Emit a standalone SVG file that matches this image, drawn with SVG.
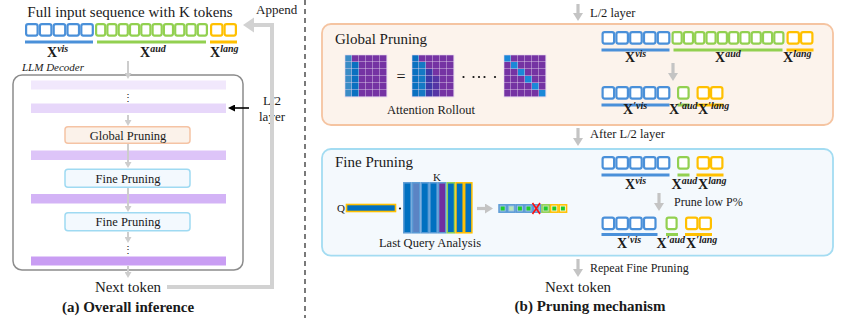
<svg xmlns="http://www.w3.org/2000/svg" xmlns:xlink="http://www.w3.org/1999/xlink" width="847" height="318" viewBox="0 0 847 318">
<style>
text{font-family:"Liberation Serif","Times New Roman",serif;fill:#1a1a1a}
.sb{fill:#fff;stroke:#4a90d9;stroke-width:2.2}
.sg{fill:#fff;stroke:#92d050;stroke-width:2.2}
.sy{fill:#fff;stroke:#ffc000;stroke-width:2.2}
.ub{fill:#4a90d9}.ug{fill:#92d050}.uy{fill:#ffc000}
.X{font-size:14px;font-weight:bold}
.sup{font-size:10px;font-style:italic;font-weight:bold}
.ga{stroke:#c4c4c4;stroke-width:3.2;fill:none;marker-end:url(#gh)}
.gs{stroke:#cdcdcd;stroke-width:2;fill:none;marker-end:url(#gs)}
.lbox{stroke-width:1.5}
.gp{fill:#fbf2ea;stroke:#f5c3a4}
.fp{fill:#f3f9fe;stroke:#9fdaf2}
.mp{fill:#7533a3}
.cell{fill:url(#g7);stroke:#e2d3ec;stroke-width:0.6}
</style>
<defs>
<marker id="gh" markerUnits="userSpaceOnUse" viewBox="0 0 8 10" markerWidth="8" markerHeight="10" refX="1" refY="5" orient="auto"><path d="M0,0L8,5L0,10z" fill="#c4c4c4"/></marker>
<marker id="gs" markerUnits="userSpaceOnUse" viewBox="0 0 6 7" markerWidth="6" markerHeight="7" refX="1" refY="3.5" orient="auto"><path d="M0,0L6,3.5L0,7z" fill="#cdcdcd"/></marker>
<marker id="bh" markerUnits="userSpaceOnUse" viewBox="0 0 7 7" markerWidth="7" markerHeight="7" refX="1" refY="3.5" orient="auto"><path d="M0,0L7,3.5L0,7z" fill="#000"/></marker>
<pattern id="g7" width="7" height="7" patternUnits="userSpaceOnUse"><path d="M7,0V7H0" fill="none" stroke="#e2d3ec" stroke-width="0.9"/></pattern>
<g id="seq">
<rect class="sb" x="1.1" y="1.1" width="11.5" height="11.5" rx="2"/>
<rect class="sb" x="14.9" y="1.1" width="11.5" height="11.5" rx="2"/>
<rect class="sb" x="28.7" y="1.1" width="11.5" height="11.5" rx="2"/>
<rect class="sb" x="42.5" y="1.1" width="11.5" height="11.5" rx="2"/>
<rect class="sb" x="56.3" y="1.1" width="11.5" height="11.5" rx="2"/>
<rect class="sg" x="71.1" y="1.1" width="9.1" height="11.5" rx="2"/>
<rect class="sg" x="82.4" y="1.1" width="9.1" height="11.5" rx="2"/>
<rect class="sg" x="93.7" y="1.1" width="9.1" height="11.5" rx="2"/>
<rect class="sg" x="105" y="1.1" width="9.1" height="11.5" rx="2"/>
<rect class="sg" x="116.3" y="1.1" width="9.1" height="11.5" rx="2"/>
<rect class="sg" x="127.6" y="1.1" width="9.1" height="11.5" rx="2"/>
<rect class="sg" x="138.9" y="1.1" width="9.1" height="11.5" rx="2"/>
<rect class="sg" x="150.2" y="1.1" width="9.1" height="11.5" rx="2"/>
<rect class="sg" x="161.5" y="1.1" width="9.1" height="11.5" rx="2"/>
<rect class="sg" x="172.8" y="1.1" width="9.1" height="11.5" rx="2"/>
<rect class="sy" x="186.1" y="1.1" width="11.3" height="11.5" rx="2"/>
<rect class="sy" x="199.6" y="1.1" width="11.3" height="11.5" rx="2"/>
<rect class="ub" x="0" y="17.5" width="68" height="3"/>
<rect class="ug" x="72" y="17.5" width="109" height="3"/>
<rect class="uy" x="185" y="17.5" width="27" height="3"/>
</g>
<g id="pr5">
<rect class="sb" x="1.1" y="1.1" width="11.5" height="11.5" rx="2"/>
<rect class="sb" x="14.9" y="1.1" width="11.5" height="11.5" rx="2"/>
<rect class="sb" x="28.7" y="1.1" width="11.5" height="11.5" rx="2"/>
<rect class="sb" x="42.5" y="1.1" width="11.5" height="11.5" rx="2"/>
<rect class="sb" x="56.3" y="1.1" width="11.5" height="11.5" rx="2"/>
<rect class="sg" x="76.6" y="1.1" width="10.5" height="11.5" rx="2"/>
<rect class="sy" x="96.1" y="1.1" width="11.3" height="11.5" rx="2"/>
<rect class="sy" x="109.6" y="1.1" width="11.3" height="11.5" rx="2"/>
<rect class="ub" x="0" y="17.5" width="68" height="3"/>
<rect class="ug" x="76" y="17.5" width="12" height="3"/>
<rect class="uy" x="95" y="17.5" width="27" height="3"/>
</g>
</defs>

<!-- divider -->
<line x1="305" y1="0" x2="305" y2="318" stroke="#222" stroke-width="1.2" stroke-dasharray="5,4"/>

<!-- ===== LEFT PANEL ===== -->
<g id="input-seq">
<text x="130" y="17" font-size="15" text-anchor="middle">Full input sequence with K tokens</text>
<use xlink:href="#seq" href="#seq" x="25" y="23"/>
<text x="47" y="57" class="X">X<tspan class="sup" dy="-5">vis</tspan></text>
<text x="140" y="57" class="X">X<tspan class="sup" dy="-5">aud</tspan></text>
<text x="210" y="57" class="X">X<tspan class="sup" dy="-5">lang</tspan></text>
</g>

<g id="decoder">
<text x="22" y="71" font-size="11" font-style="italic">LLM Decoder</text>
<rect x="13" y="75" width="230" height="195" rx="9" fill="none" stroke="#8c8c8c" stroke-width="1.5"/>
<rect x="31" y="80.5" width="195" height="9" fill="#f1e8fc"/>
<text x="128" y="101" font-size="10" text-anchor="middle">⋮</text>
<rect x="31" y="103.5" width="195" height="9.5" fill="#e7d7fa"/>
<rect x="31" y="150.5" width="195" height="9.5" fill="#ddc4f8"/>
<rect x="31" y="194" width="195" height="9.5" fill="#d3b3f6"/>
<text x="128" y="253" font-size="10" text-anchor="middle">⋮</text>
<rect x="31" y="256.5" width="195" height="9" fill="#c99df3"/>
</g>
<g id="left-global">
<rect class="lbox gp" x="65" y="126.7" width="125" height="16.6" rx="3"/>
<text x="128" y="139.5" font-size="12.5" text-anchor="middle">Global Pruning</text>
</g>
<g id="left-fine1">
<rect class="lbox fp" x="65" y="169.3" width="125" height="18" rx="3"/>
<text x="128" y="182.5" font-size="12.5" text-anchor="middle">Fine Pruning</text>
</g>
<g id="left-fine2">
<rect class="lbox fp" x="65" y="212.7" width="125" height="18" rx="3"/>
<text x="128" y="226" font-size="12.5" text-anchor="middle">Fine Pruning</text>
</g>
<g id="left-labels">
<text x="256" y="14" font-size="13">Append</text>
<text x="272" y="105" font-size="13" text-anchor="middle">L/2</text>
<text x="272" y="121" font-size="13" text-anchor="middle">layer</text>
<text x="128" y="292" font-size="15" text-anchor="middle">Next token</text>
<text x="128" y="312" font-size="15" font-weight="bold" text-anchor="middle">(a) Overall inference</text>
</g>

<g id="left-connectors">
<polyline points="167,287 272,287 272,25 252,25" fill="none" stroke="#d2d2d2" stroke-width="4"/>
<path d="M243,25L254,17.5L254,32.5z" fill="#d2d2d2"/>
<line x1="249" y1="108" x2="234" y2="108" stroke="#000" stroke-width="1.6" marker-end="url(#bh)"/>
<line class="gs" x1="128" y1="61" x2="128" y2="74"/>
<line class="gs" x1="128" y1="115" x2="128" y2="121"/>
<line class="gs" x1="128" y1="144" x2="128" y2="163"/>
<line class="gs" x1="128" y1="188" x2="128" y2="207"/>
<line class="gs" x1="128" y1="232" x2="128" y2="238"/>
<line class="gs" x1="128" y1="266" x2="128" y2="273"/>
</g>

<!-- ===== RIGHT PANEL ===== -->
<g id="global-pruning">
<rect x="322" y="24" width="511" height="101" rx="9" fill="#fcf3ec" stroke="#f5c4a1" stroke-width="1.8"/>
<text x="335" y="44" font-size="15">Global Pruning</text>
<g transform="translate(345,55)">
<rect class="mp" width="42" height="42"/>
<rect x="0" y="0" width="7" height="42" fill="#3a8cc6"/>
<rect x="7" y="7" width="7" height="35" fill="#0a70c0"/>
<rect class="cell" width="42" height="42"/>
</g>
<text x="401" y="82" font-size="16" text-anchor="middle">=</text>
<g transform="translate(412,55)">
<rect class="mp" width="42" height="42"/>
<rect x="0" y="0" width="7" height="42" fill="#0a70c0"/>
<rect x="7" y="7" width="7" height="35" fill="#1579c4"/>
<rect x="14" y="14" width="7" height="28" fill="#3d3aa8"/>
<rect x="21" y="21" width="7" height="21" fill="#5535a5"/>
<rect class="cell" width="42" height="42"/>
</g>
<g fill="#111">
<circle cx="463.5" cy="77" r="1.1"/><circle cx="473.5" cy="77" r="1.1"/><circle cx="479" cy="77" r="1.1"/><circle cx="484.5" cy="77" r="1.1"/><circle cx="495" cy="77" r="1.1"/>
</g>
<g transform="translate(504,55)">
<rect class="mp" width="42" height="42"/>
<rect x="0" y="0" width="7" height="7" fill="#1a88d8"/>
<rect x="7" y="7" width="7" height="7" fill="#1a88d8"/>
<rect x="14" y="14" width="7" height="7" fill="#1a88d8"/>
<rect x="21" y="21" width="7" height="7" fill="#1a88d8"/>
<rect x="28" y="28" width="7" height="7" fill="#1a88d8"/>
<rect x="35" y="35" width="7" height="7" fill="#1a88d8"/>
<rect class="cell" width="42" height="42"/>
</g>
<text x="431" y="114" font-size="12.5" text-anchor="middle">Attention Rollout</text>
<use xlink:href="#seq" href="#seq" x="601.5" y="31"/>
<text x="625" y="62" class="X">X<tspan class="sup" dy="-5">vis</tspan></text>
<text x="715" y="62" class="X">X<tspan class="sup" dy="-5">aud</tspan></text>
<text x="783" y="62" class="X">X<tspan class="sup" dy="-5">lang</tspan></text>
<use xlink:href="#pr5" href="#pr5" x="601.5" y="86"/>
<text x="623" y="114" class="X">X<tspan class="sup" dy="-5">′vis</tspan></text>
<text x="669" y="114" class="X">X<tspan class="sup" dy="-5">′aud</tspan></text>
<text x="698" y="114" class="X">X<tspan class="sup" dy="-5">′lang</tspan></text>
</g>

<g id="fine-pruning">
<rect x="322" y="149" width="511" height="106.7" rx="9" fill="#f4f9fd" stroke="#a3dcf2" stroke-width="1.8"/>
<text x="335" y="167" font-size="15">Fine Pruning</text>
<text x="337" y="212" font-size="11">Q</text>
<rect x="346.5" y="204.5" width="49" height="7" fill="#0070c0" stroke="#ffc000" stroke-width="1.6"/>
<circle cx="400" cy="208.5" r="1.1" fill="#111"/>
<text x="437" y="181" font-size="11" text-anchor="middle">K</text>
<g stroke-width="1.5">
<rect x="403.8" y="182.8" width="7.2" height="50" fill="#0070c0" stroke="#5b9bd5"/>
<rect x="412.5" y="182.8" width="7.2" height="50" fill="#5b84c4" stroke="#5b9bd5"/>
<rect x="421.2" y="182.8" width="7.2" height="50" fill="#0070c0" stroke="#5b9bd5"/>
<rect x="429.9" y="182.8" width="7.2" height="50" fill="#0070c0" stroke="#5b9bd5"/>
<rect x="438.6" y="182.8" width="7.2" height="50" fill="#7030a0" stroke="#5b9bd5"/>
<rect x="447.3" y="182.8" width="7.2" height="50" fill="#0070c0" stroke="#92d050"/>
<rect x="456" y="182.8" width="7.2" height="50" fill="#0070c0" stroke="#ffc000"/>
<rect x="464.7" y="182.8" width="7.2" height="50" fill="#0070c0" stroke="#ffc000"/>
</g>
<g stroke-width="1.5">
<rect x="499" y="204.8" width="7.4" height="7.4" fill="#9dc3e6" stroke="#5b9bd5"/>
<rect x="507.6" y="204.8" width="7.4" height="7.4" fill="#9dc3e6" stroke="#5b9bd5"/>
<rect x="516.2" y="204.8" width="7.4" height="7.4" fill="#9dc3e6" stroke="#5b9bd5"/>
<rect x="524.8" y="204.8" width="7.4" height="7.4" fill="#9dc3e6" stroke="#5b9bd5"/>
<rect x="533.4" y="204.8" width="7.4" height="7.4" fill="#9dc3e6" stroke="#5b9bd5"/>
<rect x="542" y="204.8" width="7.4" height="7.4" fill="#c5e0b4" stroke="#92d050"/>
<rect x="550.6" y="204.8" width="7.4" height="7.4" fill="#fff2cc" stroke="#ffc000"/>
<rect x="559.2" y="204.8" width="7.4" height="7.4" fill="#fff2cc" stroke="#ffc000"/>
</g>
<g>
<rect x="500.7" y="206.5" width="4" height="4" fill="#1fcc2a"/>
<rect x="509.3" y="206.5" width="4" height="4" fill="#b8e6b8"/>
<rect x="517.9" y="206.5" width="4" height="4" fill="#1fcc2a"/>
<rect x="526.5" y="206.5" width="4" height="4" fill="#1fcc2a"/>
<rect x="535.1" y="206.5" width="4" height="4" fill="#6aa8dc"/>
<rect x="543.7" y="206.5" width="4" height="4" fill="#1fcc2a"/>
<rect x="552.3" y="206.5" width="4" height="4" fill="#1fcc2a"/>
<rect x="560.9" y="206.5" width="4" height="4" fill="#1fcc2a"/>
</g>
<path d="M532.5,203L540,214M540,203L532.5,214" stroke="#ff1010" stroke-width="1.6"/>
<text x="430" y="247" font-size="12.5" text-anchor="middle">Last Query Analysis</text>
<use xlink:href="#pr5" href="#pr5" x="601.5" y="156"/>
<text x="625" y="189" class="X">X<tspan class="sup" dy="-5">vis</tspan></text>
<text x="671.5" y="189" class="X">X<tspan class="sup" dy="-5">aud</tspan></text>
<text x="698" y="189" class="X">X<tspan class="sup" dy="-5">lang</tspan></text>
<text x="674" y="206" font-size="12">Prune low P%</text>
<g>
<rect class="sb" x="602.6" y="217.6" width="11.5" height="11.5" rx="2"/>
<rect class="sb" x="616.4" y="217.6" width="11.5" height="11.5" rx="2"/>
<rect class="sb" x="630.2" y="217.6" width="11.5" height="11.5" rx="2"/>
<rect class="sb" x="644" y="217.6" width="11.5" height="11.5" rx="2"/>
<rect class="sg" x="666.6" y="217.6" width="10" height="11.5" rx="2"/>
<rect class="sy" x="686.1" y="217.6" width="11.3" height="11.5" rx="2"/>
<rect class="sy" x="699.6" y="217.6" width="11.3" height="11.5" rx="2"/>
<rect class="ub" x="601.5" y="233" width="56" height="3"/>
<rect class="ug" x="666" y="233" width="12" height="3"/>
<rect class="uy" x="685" y="233" width="27" height="3"/>
</g>
<text x="617" y="247.5" class="X">X<tspan class="sup" dy="-5">′vis</tspan></text>
<text x="656.5" y="247.5" class="X">X<tspan class="sup" dy="-5">′aud</tspan></text>
<text x="686" y="247.5" class="X">X<tspan class="sup" dy="-5">′lang</tspan></text>
</g>

<g id="right-labels">
<text x="590" y="17" font-size="12.5">L/2 layer</text>
<text x="590" y="138" font-size="12.5">After L/2 layer</text>
<text x="590" y="272" font-size="12">Repeat Fine Pruning</text>
<text x="578" y="292" font-size="15" text-anchor="middle">Next token</text>
<text x="590" y="311" font-size="15" font-weight="bold" text-anchor="middle">(b) Pruning mechanism</text>
</g>

<g id="right-connectors">
<line class="ga" x1="578" y1="4" x2="578" y2="14"/>
<line class="ga" x1="578" y1="128" x2="578" y2="139"/>
<line class="ga" x1="578" y1="259" x2="578" y2="270"/>
<line class="ga" x1="673" y1="63" x2="673" y2="74"/>
<line class="ga" x1="659" y1="193" x2="659" y2="204"/>
<line class="ga" x1="477" y1="208.5" x2="486" y2="208.5"/>
</g>
</svg>
